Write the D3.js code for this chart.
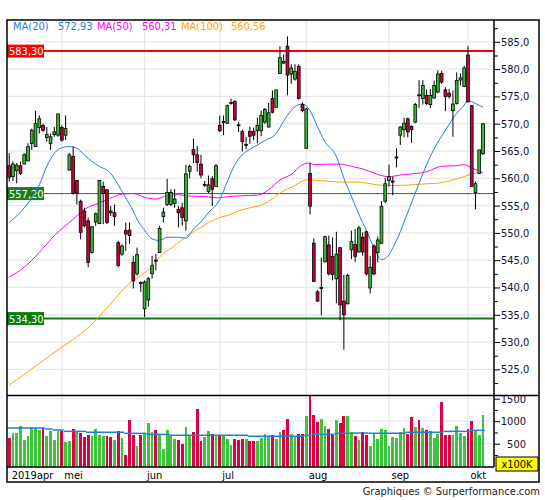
<!DOCTYPE html>
<html>
<head>
<meta charset="utf-8">
<script src="https://cdn.jsdelivr.net/npm/d3@7"></script>
<style>
  body { margin: 0; background: #fff; }
  svg text { font-family: "DejaVu Sans Condensed", "Liberation Sans", sans-serif; font-size: 11px; }
</style>
</head>
<body>
<svg id="chart" width="545" height="500"></svg>
<script>
// daily candles, 9 apr 2019 -> 7 okt 2019 (127 sessions)
const opens = [562.3,560.3,561.4,562.3,562.6,563.2,566.4,565.8,569.3,569.7,567.5,566.4,568.0,567.9,569.3,567.9,561.5,564.0,559.6,555.8,
  554.0,552.2,546.4,552.0,551.7,558.5,557.9,554.0,553.7,548.2,546.1,550.4,550.5,544.6,542.5,540.9,536.1,537.7,542.5,545.0,
  546.4,553.0,555.2,555.2,555.4,554.3,554.6,552.2,561.3,565.3,564.3,562.6,558.8,557.6,559.9,558.5,569.7,570.4,570.1,573.8,
  574.1,569.8,568.6,566.1,568.6,568.6,568.7,568.7,570.3,569.4,574.6,573.0,579.2,581.1,584.2,579.1,578.2,580.5,573.5,565.5,
  560.9,548.1,539.2,539.9,544.7,547.8,545.7,541.6,547.3,537.5,537.0,546.9,547.9,546.5,549.2,550.2,539.9,547.6,546.4,548.1,
  555.8,559.6,559.5,563.8,567.9,568.9,570.9,569.5,570.3,575.2,574.6,575.2,573.5,574.7,575.8,579.2,576.2,575.6,572.4,573.7,
  578.0,576.8,582.6,573.3,557.4,560.9,564.5];
const highs = [564.6,563.1,562.8,563.1,564.6,566.4,569.1,572.4,571.5,570.0,569.4,568.2,569.4,571.8,569.7,571.5,564.6,565.8,559.7,556.1,
  554.6,552.8,551.3,553.7,559.7,559.4,557.9,554.9,555.2,548.5,547.9,551.9,551.9,545.8,547.3,541.1,541.3,541.9,545.8,546.1,
  551.3,554.6,559.9,558.0,558.0,554.9,555.5,562.5,562.5,567.3,565.9,564.3,559.5,560.5,560.4,562.6,571.5,571.5,573.5,574.6,
  574.3,570.3,568.9,567.6,569.5,569.3,571.1,572.4,572.9,573.8,576.1,576.2,584.2,582.7,586.0,580.9,580.9,580.9,573.9,572.9,
  562.8,549.0,539.5,545.5,549.5,549.5,549.2,550.2,547.3,542.3,542.5,550.4,550.7,551.3,550.1,550.4,545.8,547.9,549.3,555.8,
  560.0,562.5,560.3,565.5,569.5,571.1,571.1,569.7,573.8,578.0,578.0,576.2,576.4,577.9,579.8,579.7,576.7,576.4,576.1,579.4,
  579.2,580.6,584.2,573.3,559.4,565.2,570.1];
const lows = [559.4,559.5,559.1,560.6,562.6,563.1,565.2,565.8,568.2,568.5,566.7,565.2,567.6,567.6,566.7,567.0,561.5,557.0,555.2,548.8,
  551.0,543.7,546.2,551.3,551.6,551.6,551.6,553.1,551.3,543.7,545.8,546.7,548.0,539.8,542.2,539.2,534.6,536.5,541.6,543.1,
  546.4,551.9,554.9,554.9,554.6,551.0,551.3,550.4,560.0,562.8,561.2,560.0,558.4,557.3,554.9,558.4,568.5,567.9,570.0,573.5,
  570.5,568.5,564.9,565.3,566.3,567.0,566.4,567.7,570.0,569.3,571.9,572.9,579.1,580.9,575.2,577.3,577.9,574.4,572.1,565.5,
  553.4,541.0,537.4,534.9,544.6,542.2,541.3,537.1,534.0,528.6,536.9,545.2,544.7,546.4,545.8,542.2,538.9,542.2,544.6,548.0,
  555.5,558.5,556.9,562.0,566.1,567.5,567.5,566.5,570.1,572.9,573.5,573.4,572.9,574.6,575.6,577.3,572.3,574.6,567.6,573.5,
  577.0,576.7,573.9,558.5,554.3,560.8,564.3];
const closes = [560.2,562.6,562.4,560.9,564.3,565.8,568.8,570.0,570.9,568.8,568.0,567.6,568.5,571.8,567.0,569.1,564.3,557.3,557.3,550.1,
  551.3,544.6,551.1,553.5,559.6,557.2,551.9,553.7,553.0,544.0,547.6,549.8,549.5,541.2,546.0,540.8,541.0,541.6,544.0,544.9,
  550.8,553.8,557.4,557.4,556.2,553.7,552.8,560.8,562.2,564.3,562.9,560.6,558.9,558.8,558.0,562.3,568.7,570.3,573.3,573.9,
  570.7,569.7,566.7,566.2,567.7,567.9,569.7,571.5,572.6,572.0,572.1,576.2,582.1,581.4,578.9,580.2,579.6,574.6,572.4,572.7,
  554.9,541.1,537.5,540.0,549.3,542.5,542.4,546.1,536.8,535.0,542.2,548.4,545.7,550.9,546.5,542.5,543.7,542.5,548.7,554.8,
  559.0,560.3,559.3,563.9,569.4,570.1,568.5,568.9,573.5,575.3,577.0,573.7,575.2,577.0,579.1,577.6,575.0,575.0,573.6,577.9,
  578.4,580.2,574.0,558.5,559.0,565.2,570.0];

// volume in x100K, 1 = green bar, 0 = red bar
const volumes = [625,736,736,892,581,670,869,847,804,847,670,781,581,781,781,537,559,825,758,736,
  648,692,670,825,692,670,670,648,581,781,625,249,1026,692,448,692,736,958,758,804,
  692,382,804,692,603,581,492,869,692,758,1270,559,648,781,714,692,692,692,603,470,
  603,581,603,603,559,559,559,625,714,670,692,603,758,804,1048,714,670,714,714,1114,
  1573,1136,981,1048,892,825,692,1026,958,1114,1114,758,670,581,758,692,448,714,603,825,
  804,448,648,625,758,847,714,1092,869,1026,847,804,781,625,714,1425,692,692,692,892,
  736,670,825,1003,781,692,1136];
const volUp = [0,1,1,1,1,1,1,1,1,0,1,1,1,1,0,1,1,0,1,0,
  0,0,1,1,1,1,0,0,1,0,1,0,0,0,1,0,1,1,1,0,
  1,1,1,1,1,0,0,1,1,0,0,0,1,1,0,1,0,1,1,1,
  0,0,0,1,0,0,1,1,1,1,0,1,1,0,0,1,1,0,0,1,
  0,0,0,1,1,0,0,1,0,0,1,1,0,1,0,0,1,1,1,1,
  1,1,1,1,1,1,0,0,1,0,1,0,1,1,1,0,0,0,1,1,
  1,1,0,0,1,1,1];
// volume average, drawn as flat pieces
const volMaStart = [0,10,12,15,21,31,37,43,64,79,81,87,92,96,106,116,123];
const volMaEnd = [9,11,14,20,30,36,42,63,78,80,86,91,95,105,115,122,126];
const volMaValue = [848,826,804,774,752,730,707,685,663,685,707,730,737,730,752,774,796];

// moving averages read at sample sessions
const ma20Idx = [0,2,4,6,8,10,12,14,16,18,20,22,24,27,29,31,33,34,36,38,40,42,45,47,49,51,53,56,58,60,62,65,67,68,71,73,75,77,78,80,82,84,87,89,91,93,95,97,99,100,103,105,108,111,113,116,119,121,122,124,126];
const ma20Val = [551.9,553.1,554.6,556.4,558.8,562.2,564.6,565.6,565.8,565.5,564.3,563.1,562.2,560.9,558.8,556.4,554.0,552.5,550.5,548.9,548.6,549.2,549.2,549.0,550.7,552.0,553.7,556.1,559.4,562.5,564.3,565.7,566.5,566.9,568.2,570.5,572.4,573.5,573.6,572.4,569.4,566.7,564.0,560.0,556.7,553.4,550.4,547.3,545.1,545.3,548.6,552.0,557.3,562.5,565.4,568.8,571.9,573.4,574.2,573.7,573.0];
const ma50Idx = [0,4,8,12,17,20,24,27,30,33,36,39,42,45,47,50,53,55,59,62,66,69,72,75,78,80,81,85,88,91,95,98,101,104,107,111,115,119,121,123,126];
const ma50Val = [541.9,543.7,546.4,549.5,552.5,554.3,555.5,556.4,557.1,557.2,556.5,556.2,556.8,557.0,556.8,556.7,556.6,556.4,556.7,556.8,556.9,557.9,559.7,560.7,562.5,562.8,562.5,562.6,562.6,562.2,561.5,560.7,560.3,560.6,560.8,561.2,562.2,562.3,562.5,561.9,561.0];
const ma100Idx = [0,11,22,27,32,35,38,40,43,45,48,51,53,56,59,61,64,67,69,72,76,79,82,86,89,93,96,100,104,107,111,114,118,121,123,126];
const ma100Val = [522.1,527.6,533.3,537.0,540.8,542.2,543.9,545.6,547.2,548.2,549.8,551.0,551.9,552.8,553.4,554.0,554.6,555.1,555.8,557.3,558.7,559.7,559.6,559.4,559.3,559.3,559.0,558.7,558.7,558.8,559.0,559.1,559.7,560.3,560.8,561.1];

const monthLabels = ["2019apr", "mei", "jun", "jul", "aug", "sep", "okt"];
const monthStart = [0, 14, 36, 56, 79, 101, 122];
const priceTicks = [525, 530, 535, 540, 545, 550, 555, 560, 565, 570, 575, 580, 585];
const priceMinor = [522.5, 527.5, 532.5, 537.5, 542.5, 547.5, 552.5, 557.5, 562.5, 567.5, 572.5, 577.5, 582.5, 587.5];
const volTicks = [500, 1000, 1500];
const volMinor = [250, 750, 1250];

const levelValues = [583.3, 557.2, 534.3];
const levelLabels = ["583,30", "557,20", "534,30"];
const legendNames = ["MA(20)", "MA(50)", "MA(100)"];
const legendValues = ["572,93", "560,31", "560,56"];

class CandleChart {
  constructor(_config) {
    this.config = {
      parentElement: _config.parentElement,
      left: 7, right: 494, outerRight: 539,
      top: 20, priceBottom: 395.5, volBottom: 467, bottom: 482,
    };
    this.initVis();
  }

  initVis() {
    let vis = this;
    const c = vis.config;
    vis.svg = d3.select(c.parentElement);

    vis.x = d3.scaleLinear().domain([0, opens.length - 1]).range([9.2, 483.0]);
    vis.y = d3.scaleLinear().domain([520.3, 589.0]).range([395, 20]);
    vis.yv = d3.scaleLinear().domain([0, 1575]).range([466.2, 395.3]);

    vis.upColor = "#33bb33";
    vis.downColor = "#cc0033";
    vis.maColors = ["#1f80d8", "#ff00ff", "#ffa500"];

    vis.drawGrid();
    vis.drawLevels();
    vis.drawAverages();
    vis.drawCandles();
    vis.drawVolume();
    vis.drawAxes();
    vis.drawFrame();
    vis.drawTexts();
  }

  drawGrid() {
    let vis = this;
    const c = vis.config;
    const g = vis.svg.append("g").attr("stroke", "#e8e8e8").attr("stroke-width", 1.3);

    g.selectAll(".hgrid")
      .data(priceTicks)
      .join("line")
      .attr("x1", c.left).attr("x2", c.right)
      .attr("y1", (d) => vis.y(d)).attr("y2", (d) => vis.y(d));

    g.selectAll(".vgrid-vol")
      .data(volTicks)
      .join("line")
      .attr("x1", c.left).attr("x2", c.right)
      .attr("y1", (d) => vis.yv(d)).attr("y2", (d) => vis.yv(d));

    // month separators run through both panels
    g.selectAll(".mgrid")
      .data(monthStart.slice(1))
      .join("line")
      .attr("x1", (d) => vis.x(d)).attr("x2", (d) => vis.x(d))
      .attr("y1", c.top).attr("y2", c.volBottom);
  }

  drawLevels() {
    let vis = this;
    const c = vis.config;
    const colors = ["#ff0000", "#1e7b1e", "#0a7d0a"];
    const widths = [2, 1, 2];
    vis.svg.append("g")
      .selectAll("line")
      .data(levelValues)
      .join("line")
      .attr("x1", c.left).attr("x2", c.right)
      .attr("y1", (d) => vis.y(d)).attr("y2", (d) => vis.y(d))
      .attr("stroke", (d, i) => colors[i])
      .attr("stroke-width", (d, i) => widths[i]);

    const tags = vis.svg.append("g")
      .selectAll("g")
      .data(levelValues)
      .join("g")
      .attr("transform", (d) => `translate(${c.left},${vis.y(d)})`);
    tags.append("rect")
      .attr("x", 0).attr("y", -6.5)
      .attr("width", 37).attr("height", 13)
      .attr("fill", (d, i) => colors[i]);
    tags.append("text")
      .attr("x", 2).attr("y", 4)
      .attr("fill", "#fff")
      .text((d, i) => levelLabels[i]);
  }

  drawAverages() {
    let vis = this;
    const line = d3.line()
      .x((d) => vis.x(d[0]))
      .y((d) => vis.y(d[1]))
      .curve(d3.curveMonotoneX);
    const series = [
      d3.zip(ma100Idx, ma100Val),
      d3.zip(ma50Idx, ma50Val),
      d3.zip(ma20Idx, ma20Val),
    ];
    const cols = [vis.maColors[2], vis.maColors[1], vis.maColors[0]];
    vis.svg.append("g")
      .selectAll("path")
      .data(series)
      .join("path")
      .attr("d", line)
      .attr("fill", "none")
      .attr("stroke", (d, i) => cols[i])
      .attr("stroke-width", 1);
  }

  drawCandles() {
    let vis = this;
    const idx = d3.range(opens.length);
    const g = vis.svg.append("g");

    g.selectAll(".wick")
      .data(idx)
      .join("line")
      .attr("x1", (i) => vis.x(i)).attr("x2", (i) => vis.x(i))
      .attr("y1", (i) => vis.y(highs[i])).attr("y2", (i) => vis.y(lows[i]))
      .attr("stroke", "#000")
      .attr("stroke-width", 1);

    g.selectAll(".body")
      .data(idx)
      .join("rect")
      .attr("x", (i) => vis.x(i) - 1.4)
      .attr("width", 2.8)
      .attr("y", (i) => vis.y(Math.max(opens[i], closes[i])))
      .attr("height", (i) => Math.max(1, Math.abs(vis.y(opens[i]) - vis.y(closes[i]))))
      .attr("fill", (i) => (closes[i] >= opens[i] ? vis.upColor : vis.downColor))
      .attr("stroke", "#000")
      .attr("stroke-width", 0.8);
  }

  drawVolume() {
    let vis = this;
    const c = vis.config;
    vis.svg.append("g")
      .selectAll("rect")
      .data(volumes)
      .join("rect")
      .attr("x", (d, i) => vis.x(i) - 1.4)
      .attr("width", 2.8)
      .attr("y", (d) => vis.yv(d))
      .attr("height", (d) => c.volBottom - vis.yv(d))
      .attr("fill", (d, i) => (volUp[i] ? "#3cc43c" : "#dd0044"))
      .attr("shape-rendering", "crispEdges");

    vis.svg.append("g")
      .selectAll("line")
      .data(volMaValue)
      .join("line")
      .attr("x1", (d, i) => vis.x(volMaStart[i]) - 1.9)
      .attr("x2", (d, i) => vis.x(volMaEnd[i]) + 1.9)
      .attr("y1", (d) => vis.yv(d)).attr("y2", (d) => vis.yv(d))
      .attr("stroke", "#1f7fd6")
      .attr("stroke-width", 1.5);
  }

  drawAxes() {
    let vis = this;
    const c = vis.config;
    const fmt = (d) => d.toFixed(1).replace(".", ",");
    const textCol = "#111133";

    const pAxis = vis.svg.append("g")
      .attr("transform", `translate(${c.right},0)`)
      .call(d3.axisRight(vis.y).tickValues(priceTicks).tickSize(6).tickSizeOuter(0).tickPadding(1).tickFormat(fmt));
    pAxis.select(".domain").remove();
    pAxis.selectAll("text").attr("fill", textCol).attr("font-family", null).attr("font-size", null);

    vis.svg.append("g")
      .attr("transform", `translate(${c.right},0)`)
      .call(d3.axisRight(vis.y).tickValues(priceMinor.filter((d) => d < 588)).tickSize(4).tickFormat(""))
      .select(".domain").remove();

    const vAxis = vis.svg.append("g")
      .attr("transform", `translate(${c.right},0)`)
      .call(d3.axisRight(vis.yv).tickValues(volTicks).tickSize(6).tickFormat((d) => d));
    vAxis.select(".domain").remove();
    vAxis.selectAll("text")
      .attr("x", 32).attr("text-anchor", "end")
      .attr("fill", textCol).attr("font-family", null).attr("font-size", null);

    vis.svg.append("g")
      .attr("transform", `translate(${c.right},0)`)
      .call(d3.axisRight(vis.yv).tickValues(volMinor).tickSize(4).tickFormat(""))
      .select(".domain").remove();

    const xAxis = vis.svg.append("g")
      .attr("transform", `translate(0,${c.volBottom})`)
      .call(d3.axisBottom(vis.x).tickValues(monthStart).tickSize(0).tickPadding(4)
        .tickFormat((d, i) => monthLabels[i]));
    xAxis.select(".domain").remove();
    xAxis.selectAll("text")
      .attr("text-anchor", "start").attr("x", 2)
      .attr("fill", "#000").attr("font-family", null).attr("font-size", null);
  }

  drawFrame() {
    let vis = this;
    const c = vis.config;
    const g = vis.svg.append("g").attr("stroke", "#000").attr("stroke-width", 1.5).attr("fill", "none");
    g.append("rect")
      .attr("x", c.left).attr("y", c.top)
      .attr("width", c.outerRight - c.left).attr("height", c.bottom - c.top);
    g.append("line").attr("x1", c.left).attr("x2", c.outerRight).attr("y1", c.priceBottom).attr("y2", c.priceBottom);
    g.append("line").attr("x1", c.left).attr("x2", c.right).attr("y1", c.volBottom).attr("y2", c.volBottom);
    g.append("line").attr("x1", c.right).attr("x2", c.right).attr("y1", c.top).attr("y2", c.volBottom);

    // unit tag for the volume panel
    vis.svg.append("rect")
      .attr("x", 496).attr("y", 457)
      .attr("width", 42).attr("height", 14)
      .attr("fill", "#ffff00").attr("stroke", "#000").attr("stroke-width", 1);
    vis.svg.append("text")
      .attr("x", 517).attr("y", 468)
      .attr("text-anchor", "middle")
      .text("x100K");
  }

  drawTexts() {
    let vis = this;
    const nameX = [13, 97, 181];
    const valX = [58, 142, 231];
    const lg = vis.svg.append("g");
    lg.selectAll(".name")
      .data(legendNames)
      .join("text")
      .attr("x", (d, i) => nameX[i]).attr("y", 30)
      .attr("fill", (d, i) => vis.maColors[i])
      .text((d) => d);
    lg.selectAll(".val")
      .data(legendValues)
      .join("text")
      .attr("x", (d, i) => valX[i]).attr("y", 30)
      .attr("fill", (d, i) => vis.maColors[i])
      .text((d) => d);

    vis.svg.append("text")
      .attr("x", 540).attr("y", 495)
      .attr("text-anchor", "end")
      .attr("fill", "#222")
      .text("Graphiques \u00a9 Surperformance.com");
  }
}

new CandleChart({ parentElement: "#chart" });
</script>
</body>
</html>
